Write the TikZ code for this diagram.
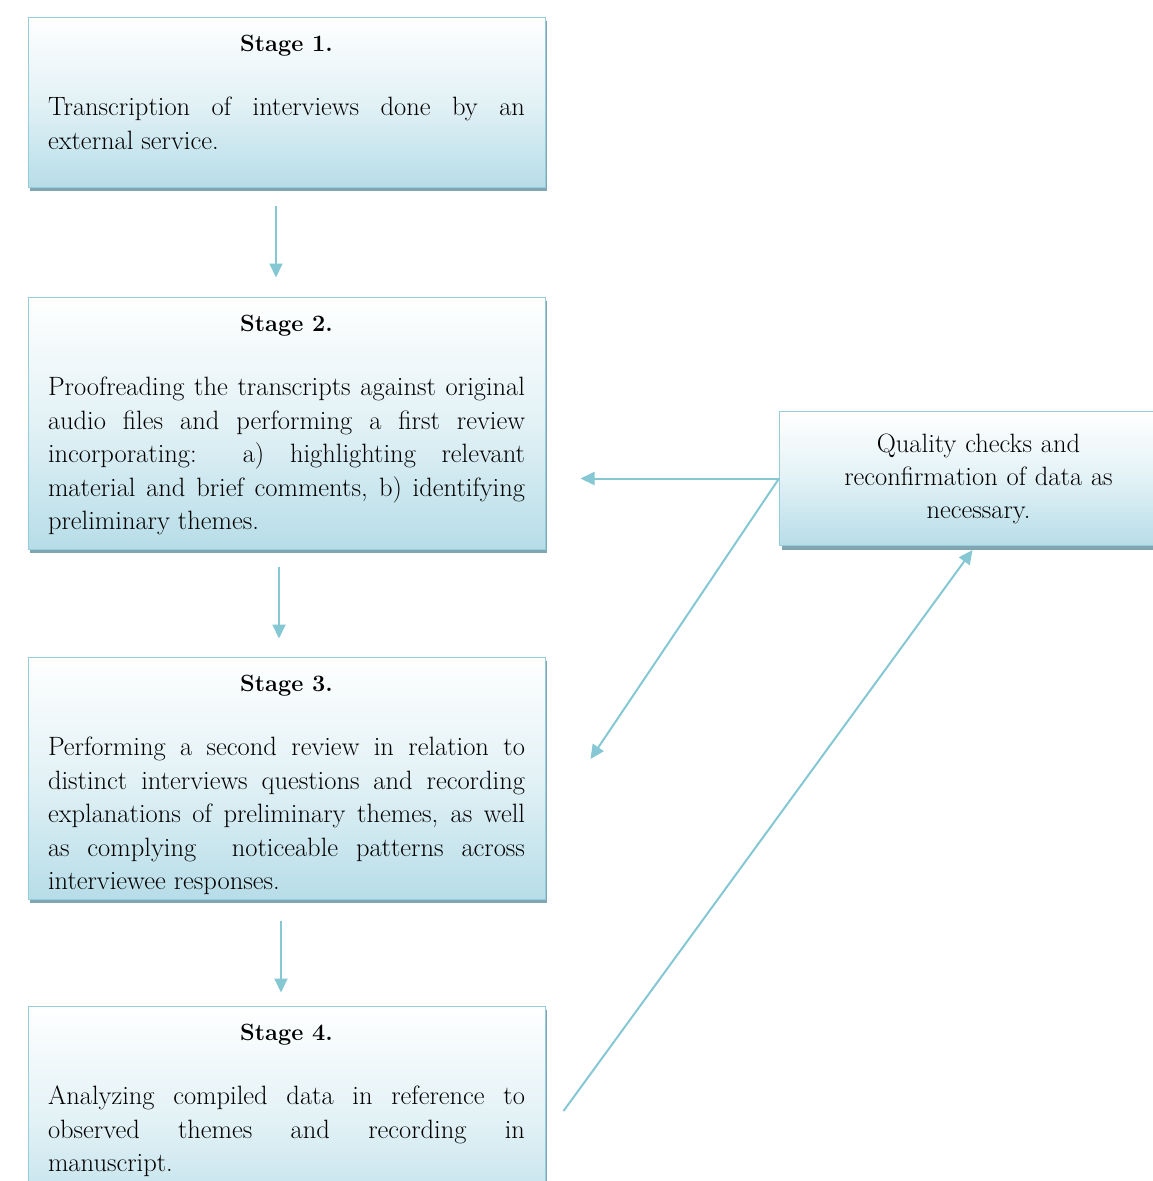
\documentclass[tikz,border=0pt]{standalone}
\usepackage{xcolor}
\usepackage{tikz}
\usetikzlibrary{positioning,shadows,arrows.meta}
\definecolor{boxblue}{RGB}{183,221,232}
\definecolor{edgeblue}{RGB}{150,205,220}
\definecolor{shadeblue}{RGB}{128,166,178}
\definecolor{arrowblue}{RGB}{133,199,211}
\hfuzz = 20pt
\tikzstyle{stagebox} = [rectangle, text width = 477pt, inner xsep = 20pt, inner ysep = 18pt, text height = 16pt, align = justify, draw = edgeblue, line width = 1pt, top color = white, bottom color = boxblue, middle color = boxblue!40, drop shadow = {shadow xshift = 2pt, shadow yshift = -4pt, fill = shadeblue, opacity = 1}, font = \fontsize{26.5pt}{33.5pt}\selectfont]
\tikzstyle{checkbox} = [rectangle, minimum width = 398pt, minimum height = 134pt, text width = 370pt, align = center, draw = edgeblue, line width = 1pt, top color = white, bottom color = boxblue, middle color = boxblue!40, drop shadow = {shadow xshift = 2pt, shadow yshift = -4pt, fill = shadeblue, opacity = 1}, font = \fontsize{26.5pt}{33pt}\selectfont]
\tikzstyle{arrow} = [line width = 2pt, draw = arrowblue, -{Triangle[width = 13pt, length = 14pt]}]
\newcommand{\stagehead}[1]{{\centering\fontsize{23.5pt}{33.5pt}\selectfont\bfseries #1\par}\vspace{31pt}}

\begin{document}
\begin{tikzpicture}[x = 1pt, y = -1pt]
\useasboundingbox (0,0) rectangle (1153,1181);
\clip (0,0) rectangle (1153,1181);

\node(transcribe) [stagebox, text depth = 118pt] at (286.5,102) {\stagehead{Stage 1.}Transcription of interviews done by an\linebreak external service.};
\node(proofread) [stagebox, text depth = 200pt, below = 109pt of transcribe] {\stagehead{Stage 2.}Proofreading the transcripts against original\linebreak audio files and performing a first review\linebreak incorporating: a) highlighting relevant\linebreak material and brief comments, b) identifying\linebreak preliminary themes.};
\node(review) [stagebox, text depth = 190pt, below = 107pt of proofread] {\stagehead{Stage 3.}Performing a second review in relation to\linebreak distinct interviews questions and recording\linebreak explanations of preliminary themes, as well\linebreak as complying\ \ noticeable patterns across\linebreak interviewee responses.};
\node(analyse) [stagebox, text depth = 178pt, below = 106pt of review] {\stagehead{Stage 4.}Analyzing compiled data in reference to\linebreak observed themes and recording in\linebreak manuscript.};
\node(quality) [checkbox, anchor = north west] at (779,411) {Quality checks and\\ reconfirmation of data as\\ necessary.};

\draw [arrow, shorten <= 18pt, shorten >= 19pt] ([xshift = -10.5pt]transcribe.south) -- ([xshift = -10.5pt]proofread.north);
\draw [arrow, shorten <= 17pt, shorten >= 18pt] ([xshift = -7.5pt]proofread.south) -- ([xshift = -7.5pt]review.north);
\draw [arrow, shorten <= 21pt, shorten >= 13pt] ([xshift = -5.5pt]review.south) -- ([xshift = -5.5pt]analyse.north);
\draw [arrow, shorten >= 35pt] (quality.west) -- (quality.west -| proofread.east);
\draw [arrow] (quality.west) -- ([xshift = 45pt, yshift = 19pt]review.east);
\draw [arrow] ([xshift = 18pt, yshift = 10pt]analyse.east) -- ([xshift = -6pt, yshift = -4pt]quality.south);

\end{tikzpicture}
\end{document}
